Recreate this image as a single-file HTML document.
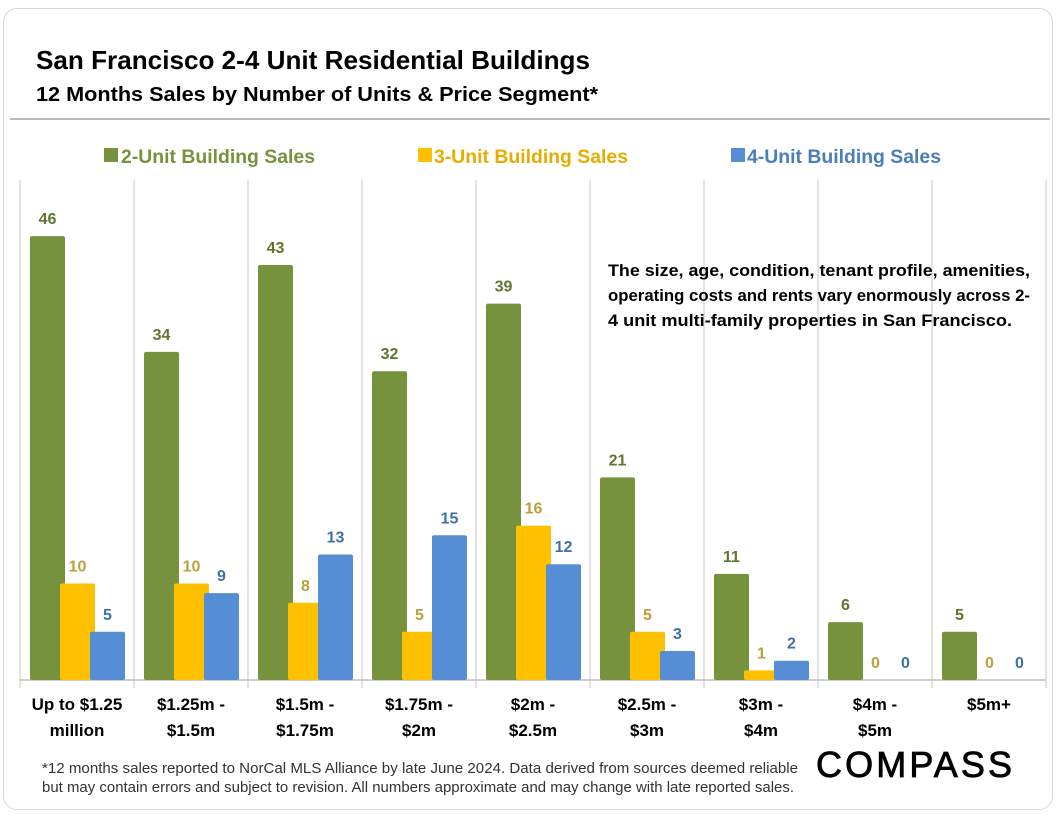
<!DOCTYPE html>
<html><head><meta charset="utf-8"><style>
body{margin:0;background:#fff;width:1056px;height:816px;overflow:hidden;font-family:"Liberation Sans",sans-serif;}
#card{position:absolute;left:3px;top:8px;width:1048px;height:800px;border:1px solid #d8d8d8;border-radius:14px;background:#fff;}
</style></head><body>
<div id="card"></div>
<svg width="1056" height="816" style="position:absolute;left:0;top:0">
<text x="36" y="69" font-size="26" font-weight="bold" fill="#000" textLength="554" lengthAdjust="spacingAndGlyphs">San Francisco 2-4 Unit Residential Buildings</text>
<text x="36" y="101" font-size="20" font-weight="bold" fill="#000" textLength="562" lengthAdjust="spacingAndGlyphs">12 Months Sales by Number of Units &amp; Price Segment*</text>
<line x1="10" y1="119" x2="1050" y2="119" stroke="#bbb" stroke-width="2"/>
<g font-size="19" font-weight="bold">
<rect x="104" y="148" width="14" height="14" fill="#76923c"/>
<text x="121" y="163" fill="#76923c" textLength="194" lengthAdjust="spacingAndGlyphs">2-Unit Building Sales</text>
<rect x="418" y="148" width="14" height="14" fill="#ffc000"/>
<text x="434" y="163" fill="#e6ac00" textLength="194" lengthAdjust="spacingAndGlyphs">3-Unit Building Sales</text>
<rect x="731" y="148" width="14" height="14" fill="#558ed5"/>
<text x="747" y="163" fill="#4a7ebb" textLength="194" lengthAdjust="spacingAndGlyphs">4-Unit Building Sales</text>
</g>
<g id="plot"></g>
<g font-size="16.5" font-weight="bold" fill="#000">
<text x="608" y="276" textLength="422" lengthAdjust="spacingAndGlyphs">The size, age, condition, tenant profile, amenities,</text>
<text x="608" y="301" textLength="422" lengthAdjust="spacingAndGlyphs">operating costs and rents vary enormously across 2-</text>
<text x="608" y="326" textLength="404" lengthAdjust="spacingAndGlyphs">4 unit multi-family properties in San Francisco.</text>
</g>
<g font-size="14.5" fill="#333">
<text x="42" y="773" textLength="756" lengthAdjust="spacingAndGlyphs">*12 months sales reported to NorCal MLS Alliance by late June 2024. Data derived from sources deemed reliable</text>
<text x="42" y="792" textLength="752" lengthAdjust="spacingAndGlyphs">but may contain errors and subject to revision. All numbers approximate and may change with late reported sales.</text>
</g>
<text x="816" y="777" font-size="36" fill="#000" stroke="#000" stroke-width="0.8" textLength="196" lengthAdjust="spacing">COMPASS</text>
</svg>
<script>
const categories=[["Up to $1.25","million"],["$1.25m -","$1.5m"],["$1.5m -","$1.75m"],["$1.75m -","$2m"],["$2m -","$2.5m"],["$2.5m -","$3m"],["$3m -","$4m"],["$4m -","$5m"],["$5m+"]];
const units2=[46,34,43,32,39,21,11,6,5];
const units3=[10,10,8,5,16,5,1,0,0];
const units4=[5,9,13,15,12,3,2,0,0];
const NS="http://www.w3.org/2000/svg";
const g=document.getElementById('plot');
const x0=20,cw=114,base=680,top0=180,scale=9.65;
const y=v=>base-v*scale;
function el(t,a){const e=document.createElementNS(NS,t);for(const k in a)e.setAttribute(k,a[k]);g.appendChild(e);return e;}
for(let i=0;i<=categories.length;i++){
 const l=el('line',{x1:x0+i*cw,x2:x0+i*cw,y1:top0,y2:base+8,stroke:'#d9d9d9','stroke-width':1.5});
 
 
}
const ax=el('line',{x1:x0,x2:x0+9*cw,y1:base,y2:base,stroke:'#bfbfbf','stroke-width':1.5});


const series=[[units2,'#76923c','#5f7530',10],[units3,'#ffc000','#b8a13a',40],[units4,'#558ed5','#3f6fa8',70]];
categories.forEach((c,i)=>{
 series.forEach(([arr,col,lc,off],s)=>{
  const v=arr[i],bx=x0+i*cw+off;
  if(v>0){const r=el('rect',{x:bx,y:y(v),width:35,height:v*scale,fill:col,rx:2});
   
   }
  const t=el('text',{x:bx+17.5,y:y(v)-12,'text-anchor':'middle','font-size':16,'font-weight':'bold',fill:lc});
  t.textContent=v;
  
  
 });
 c.forEach((line,j)=>{
  const t=el('text',{x:x0+i*cw+cw/2,y:710+j*26,'text-anchor':'middle','font-size':17,'font-weight':'bold',fill:'#000'});
  t.textContent=line;
  
  
 });
});
</script>
</body></html>
